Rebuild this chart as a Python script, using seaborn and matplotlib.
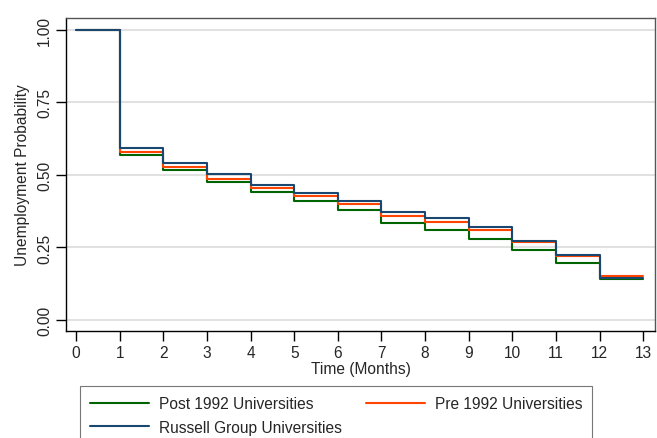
import pandas as pd
import seaborn as sns
import matplotlib.pyplot as plt

months = list(range(14))
post_1992 = [1.0, 0.567, 0.517, 0.475, 0.440, 0.410, 0.379, 0.334, 0.310, 0.280, 0.240, 0.195, 0.140, 0.140]
pre_1992 = [1.0, 0.580, 0.527, 0.486, 0.454, 0.429, 0.401, 0.360, 0.339, 0.311, 0.269, 0.219, 0.153, 0.153]
russell = [1.0, 0.594, 0.541, 0.503, 0.466, 0.438, 0.410, 0.373, 0.352, 0.321, 0.273, 0.224, 0.146, 0.146]
groups = ["Post 1992 Universities", "Pre 1992 Universities", "Russell Group Universities"]
colors = ["#006400", "#ff4500", "#1a476f"]

df = pd.concat([
    pd.DataFrame({'month': months, 'surv': vals, 'group': g})
    for g, vals in zip(groups, [post_1992, pre_1992, russell])
])

sns.set_style("white")
plt.rcParams['font.family'] = ['Liberation Sans', 'DejaVu Sans']
fs = 11.2

fig = plt.figure(figsize=(6.57, 4.39), dpi=100)
ax = fig.add_axes([66/657, 1 - 332/439, (655-66)/657, (332-19)/439])

sns.lineplot(data=df, x='month', y='surv', hue='group', palette=colors,
             drawstyle='steps-post', estimator=None, linewidth=1.5, ax=ax, legend=False)

ax.set_xlim(-0.23, 13.27)
ax.set_ylim(-0.038, 1.041)
ax.set_xticks(range(14))
ax.set_yticks([0, 0.25, 0.5, 0.75, 1.0])
ax.set_yticklabels(["0.00", "0.25", "0.50", "0.75", "1.00"], rotation=90, va='center')
ax.yaxis.grid(True, color='#dcdcdc', linewidth=1.2)
ax.set_axisbelow(True)
ax.tick_params(axis='both', direction='out', length=7, width=1, labelsize=fs,
               color='black', bottom=True, left=True)
ax.tick_params(axis='x', pad=3)
ax.tick_params(axis='y', pad=3)
ax.spines['left'].set_color('black')
ax.spines['bottom'].set_color('black')
ax.spines['top'].set_color('#555555')
ax.spines['right'].set_color('#555555')
for s in ax.spines.values():
    s.set_linewidth(1)
ax.set_xlabel("Time (Months)", fontsize=fs, labelpad=1)
ax.set_ylabel("Unemployment Probability", fontsize=fs, labelpad=5)

handles = [plt.Line2D([], [], color=c, linewidth=1.5) for c in colors]
order = [0, 2, 1]
leg = fig.legend([handles[i] for i in order], [groups[i] for i in order],
                 ncol=2, loc='upper left', bbox_to_anchor=(80/657, 1 - 387/439),
                 frameon=True, fancybox=False, edgecolor='#555555', fontsize=fs,
                 handlelength=3.8, handletextpad=0.65, columnspacing=1.5,
                 borderaxespad=0, borderpad=0.65, labelspacing=0.55)
leg.get_frame().set_linewidth(0.8)

fig.savefig("out.png", dpi=100)
